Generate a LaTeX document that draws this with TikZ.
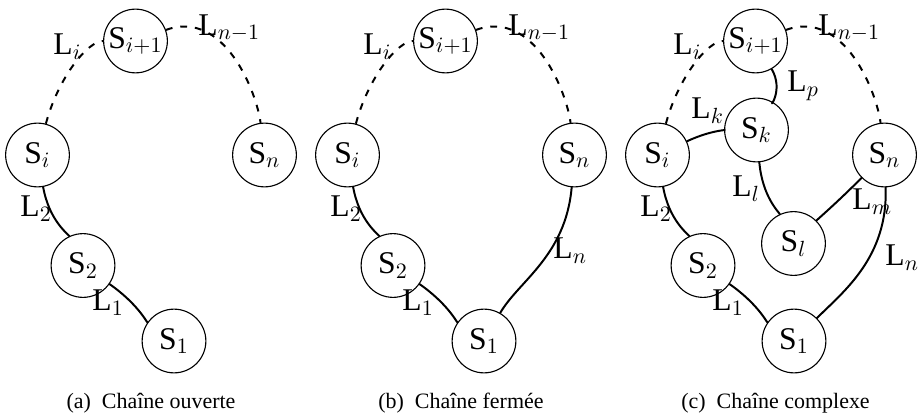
\documentclass[tikz,border=0pt]{standalone}
\usepackage{fontspec}
\setmainfont{Liberation Serif}

\begin{document}
\begin{tikzpicture}[
    x=0.016cm,y=0.016cm,
    line cap=round,
    line join=round,
    every node/.style={font=\Large},
    site/.style={
        circle,
        draw,
        line width=0.5pt,
        minimum size=1.02cm,
        inner sep=0pt
    },
    link/.style={line width=0.9pt},
    openlink/.style={
        line width=0.9pt,
        line cap=butt,
        dash pattern=on 3.1pt off 3.6pt
    },
    lab/.style={font=\Large,inner sep=0pt,anchor=west},
    subcap/.style={font=\normalsize}
]

\useasboundingbox (0,0) rectangle (918,417);

% ============================================================
% common part of the three chains
% ============================================================

\newcommand{\ChainBase}{%
    \node[site] (sip1) at (135.5,376) {S$_{i+1}$};
    \node[site] (si)   at (37.5,262)  {S$_i$};
    \node[site] (sn)   at (264.5,262) {S$_n$};
    \node[site] (s2)   at (83,151.5)  {S$_2$};
    \node[site] (s1)   at (174,76)    {S$_1$};

    \draw[openlink] (si) to[out=75,in=180] (sip1);
    \draw[openlink] (sip1) to[out=20,in=97] (sn);
    \draw[link] (si) to[out=-80,in=115] (s2);
    \draw[link] (s2) to[out=-35,in=145] (s1);

    \node[lab] (li)   at (53,370)  {L$_i$};
    \node[lab] (lnm1) at (198,389) {L$_{n-1}$};
    \node[lab] (l2)   at (20,208)  {L$_2$};
    \node[lab] (l1)   at (92,114)  {L$_1$};
}

% ============================================================
% (a) open chain
% ============================================================

\begin{scope}[shift={(0,0)},name prefix=a-]
    \ChainBase
    \node[subcap] (capt) at (151,14) {(a)\enspace Chaîne ouverte};
\end{scope}

% ============================================================
% (b) closed chain
% ============================================================

\begin{scope}[shift={(310,0)},name prefix=b-]
    \ChainBase
    \draw[link] (sn) to[out=-95,in=60] (s1);
    \node[lab] (ln) at (243,166) {L$_n$};
    \node[subcap] (capt) at (151,14) {(b)\enspace Chaîne fermée};
\end{scope}

% ============================================================
% (c) complex chain
% ============================================================

\begin{scope}[shift={(620,0)},name prefix=c-]
    \ChainBase
    \node[site] (sk) at (136.5,287)   {S$_k$};
    \node[site] (sl) at (173.5,173.5) {S$_l$};

    \draw[link] (sip1) to[out=-60,in=60] (sk);
    \draw[link] (si) to[out=25,in=180] (sk);
    \draw[link] (sk) to[out=-85,in=115] (sl);
    \draw[link] (sn) to[out=-135,in=45] (sl);
    \draw[link] (sn) to[out=-88,in=45] (s1);

    \node[lab] (lp) at (167,331) {L$_p$};
    \node[lab] (lk) at (71,306)  {L$_k$};
    \node[lab] (ll) at (112,228) {L$_l$};
    \node[lab] (lm) at (232,215) {L$_m$};
    \node[lab] (ln) at (265,159) {L$_n$};
    \node[subcap] (capt) at (155.5,14) {(c)\enspace Chaîne complexe};
\end{scope}

\end{tikzpicture}
\end{document}
